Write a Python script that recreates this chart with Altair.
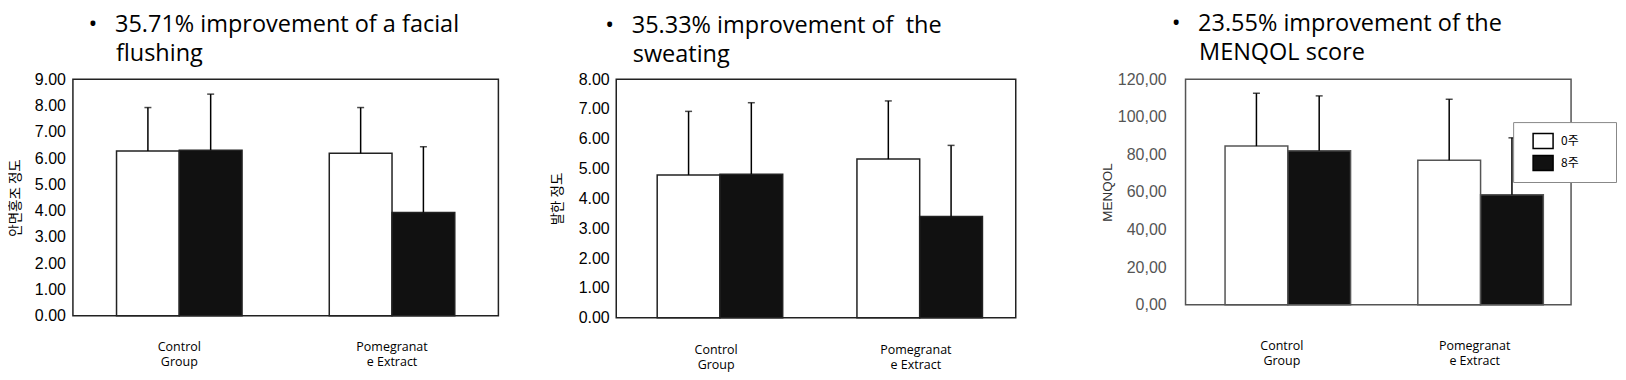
import altair as alt
import pandas as pd

groups = ["Control\nGroup", "Pomegranat\ne Extract"]
weeks = ["0주", "8주"]

flush_mean_0 = [6.27, 6.18]
flush_mean_8 = [6.30, 3.93]
flush_upper_0 = [7.92, 7.92]
flush_upper_8 = [8.43, 6.43]

sweat_mean_0 = [4.79, 5.32]
sweat_mean_8 = [4.81, 3.40]
sweat_upper_0 = [6.92, 7.27]
sweat_upper_8 = [7.21, 5.78]

menqol_mean_0 = [84.4, 76.9]
menqol_mean_8 = [81.9, 58.6]
menqol_upper_0 = [112.5, 109.3]
menqol_upper_8 = [111.1, 88.8]

flush_ticks = [0, 1, 2, 3, 4, 5, 6, 7, 8, 9]
sweat_ticks = [0, 1, 2, 3, 4, 5, 6, 7, 8]
menqol_ticks = [0, 20, 40, 60, 80, 100, 120]

ZW = "\u200b"
GAP = "\u2002\u2005"          # space between bullet and text
INDENT = ZW + "\u2003\u2009"  # indent of the second line

title_flush = ["•" + GAP + "35.71% improvement of a facial", INDENT + "flushing"]
title_sweat = ["•" + GAP + "35.33% improvement of\u00a0 the", INDENT + "sweating"]
title_menqol = ["•" + GAP + "23.55% improvement of the", INDENT + "MENQOL score"]


def make_df(m0, m8, u0, u8):
    rows = []
    for i, g in enumerate(groups):
        rows.append({"group": g, "week": weeks[0], "mean": m0[i], "upper": u0[i]})
        rows.append({"group": g, "week": weeks[1], "mean": m8[i], "upper": u8[i]})
    return pd.DataFrame(rows)


def panel(df, ymax, ticks, ytitle, tlines, width, height, tdx, toff,
          lab_expr, lab_font_size, lab_color, lab_pad, ttl_font, ttl_pad, ttl_color,
          xlab_pad, frame_color, legend):
    x = alt.X("group:N", sort=groups,
              scale=alt.Scale(paddingInner=0.41, paddingOuter=0.205),
              axis=alt.Axis(title=None, labelAngle=0, domain=False, ticks=False, tickSize=0,
                            labelExpr="split(datum.label, '\\n')",
                            labelFont="Open Sans", labelFontSize=12.5, labelColor="black",
                            labelLineHeight=15, labelPadding=xlab_pad, labelBaseline="top"))
    xo = alt.XOffset("week:N", sort=weeks, scale=alt.Scale(paddingInner=0, paddingOuter=0))
    yscale = alt.Scale(domain=[0, ymax], nice=False, zero=True)
    yaxis = alt.Axis(values=ticks, tickCount=len(ticks), labelExpr=lab_expr, grid=False,
                     domain=False, ticks=False, tickSize=0, labelOverlap=False,
                     labelFont="Liberation Sans",
                     labelFontSize=lab_font_size, labelColor=lab_color,
                     labelPadding=lab_pad, titleFont=ttl_font, titleFontSize=13.5,
                     titleFontWeight="normal", titleColor=ttl_color,
                     titlePadding=ttl_pad)
    fill = alt.Fill("week:N", sort=weeks,
                    scale=alt.Scale(domain=weeks, range=["#ffffff", "#111111"]),
                    legend=legend)
    bars = alt.Chart(df).mark_bar(stroke=frame_color, strokeWidth=1.5).encode(
        x=x, xOffset=xo, y=alt.Y("mean:Q", scale=yscale, axis=yaxis, title=ytitle),
        fill=fill)
    rules = alt.Chart(df).mark_rule(color="black", strokeWidth=1.5).encode(
        x=x, xOffset=xo, y=alt.Y("mean:Q", scale=yscale, axis=yaxis, title=ytitle),
        y2="upper:Q")
    caps = alt.Chart(df).mark_tick(color="black", thickness=1.5, size=7).encode(
        x=x, xOffset=xo, y=alt.Y("upper:Q", scale=yscale, axis=yaxis, title=ytitle))
    return alt.layer(bars, rules, caps).properties(
        width=width, height=height,
        view=alt.ViewConfig(stroke=frame_color, strokeWidth=1.5),
        title=alt.TitleParams(text=tlines[0], subtitle=tlines[1], anchor="start",
                              frame="group", dx=tdx, offset=toff,
                              font="Open Sans", fontSize=23.5, fontWeight="normal",
                              color="black", subtitleFont="Open Sans", subtitleFontSize=23.5,
                              subtitleFontWeight="normal", subtitleColor="black",
                              subtitlePadding=5.5),
    )


def spacer(w):
    return alt.Chart(pd.DataFrame({"v": [0]})).mark_point(opacity=0).encode(
        x=alt.X("v:Q", axis=None), y=alt.Y("v:Q", axis=None)
    ).properties(width=w, height=1, view=alt.ViewConfig(strokeOpacity=0))


df1 = make_df(flush_mean_0, flush_mean_8, flush_upper_0, flush_upper_8)
df2 = make_df(sweat_mean_0, sweat_mean_8, sweat_upper_0, sweat_upper_8)
df3 = make_df(menqol_mean_0, menqol_mean_8, menqol_upper_0, menqol_upper_8)

dot_fmt = "format(datum.value, '.2f')"
comma_fmt = "replace(format(datum.value, '.2f'), '.', ',')"

p1 = panel(df1, 9, flush_ticks, "안면홍조 정도", title_flush, 426, 237, 15.7, 5.5,
           dot_fmt, 16, "black", 7.5, "Noto Sans CJK KR", 11.5, "black", 24.5, "#222222", None)
p2 = panel(df2, 8, sweat_ticks, "발한 정도", title_sweat, 400, 239, -10.9, 4.5,
           dot_fmt, 16, "black", 7, "Noto Sans CJK KR", 14, "black", 26, "#222222", None)
legend3 = alt.Legend(orient="none", legendX=328, legendY=43,
                     title=ZW + "\u2003\u2002" + ZW, titleOrient="right", titlePadding=10,
                     titleFontSize=12, titleColor="white", titleFont="Noto Sans CJK KR",
                     symbolType="M0.1,-0.75H2.1V0.75H0.1Z", symbolSize=400,
                     symbolStrokeColor="black", symbolStrokeWidth=1.5,
                     labelFont="Noto Sans CJK KR", labelFontSize=12, labelColor="black",
                     padding=8, rowPadding=0, labelOffset=18,
                     strokeColor="#888888", fillColor="white")
p3 = panel(df3, 120, menqol_ticks, "MENQOL", title_menqol, 386, 226, -13.9, 6.5,
           comma_fmt, 16, "#555555", 19.4, "Liberation Sans", 3, "#333333", 35, "#555555", legend3)

chart = alt.hconcat(p1, spacer(118), p2, spacer(170), p3, spacing=0, bounds="flush").resolve_scale(
    fill="independent"
).properties(
    padding={"left": 0, "top": 3, "right": 0, "bottom": 0},
    background="white",
)

chart.save("out.html", embed_options={"renderer": "svg", "actions": False})
